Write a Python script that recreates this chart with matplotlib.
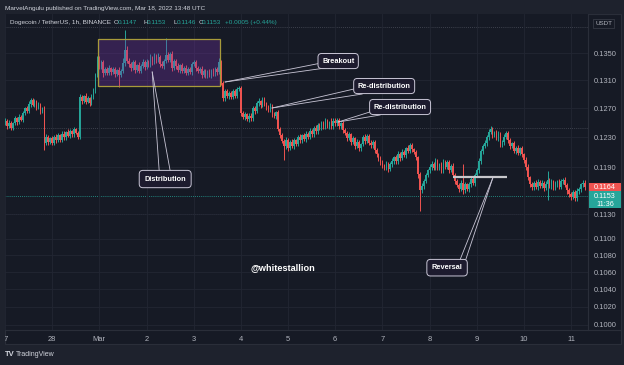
import numpy as np
import pandas as pd
import matplotlib
matplotlib.use('Agg')
import matplotlib.pyplot as plt
import matplotlib.dates as mdates
from matplotlib.patches import Rectangle
from matplotlib.lines import Line2D
from matplotlib.ticker import FixedLocator, NullLocator
from matplotlib.transforms import Bbox, TransformedBbox

# DOGE/USDT 1h closes in 1e-4 USDT, Feb 27 00:00 -> Mar 11 07:00 (one row per day)
closes = [
    1253, 1245, 1250, 1243, 1249, 1256, 1251, 1258, 1254, 1263, 1270, 1266, 1276, 1282, 1275, 1280, 1271, 1275, 1266, 1270, 1222, 1230, 1224, 1229,
    1223, 1231, 1226, 1233, 1227, 1235, 1230, 1237, 1232, 1238, 1234, 1241, 1236, 1231, 1286, 1280, 1287, 1279, 1284, 1278, 1286, 1296, 1318, 1340,
    1330, 1336, 1320, 1327, 1321, 1328, 1322, 1327, 1319, 1325, 1318, 1324, 1335, 1355, 1338, 1333, 1328, 1336, 1325, 1332, 1324, 1331, 1336, 1329,
    1337, 1333, 1343, 1336, 1346, 1339, 1344, 1334, 1331, 1338, 1347, 1340, 1349, 1328, 1338, 1331, 1325, 1332, 1323, 1328, 1321, 1327, 1322, 1334,
    1336, 1328, 1323, 1327, 1318, 1324, 1317, 1323, 1318, 1324, 1319, 1326, 1322, 1337, 1306, 1284, 1294, 1287, 1292, 1286, 1294, 1288, 1297, 1299,
    1264, 1258, 1262, 1255, 1260, 1256, 1271, 1266, 1277, 1280, 1275, 1283, 1277, 1272, 1268, 1274, 1262, 1259, 1265, 1242, 1233, 1225, 1218, 1226,
    1216, 1224, 1218, 1226, 1221, 1230, 1226, 1233, 1228, 1235, 1231, 1239, 1234, 1243, 1238, 1247, 1243, 1250, 1245, 1252, 1246, 1251, 1245, 1253,
    1249, 1254, 1245, 1249, 1240, 1236, 1229, 1234, 1224, 1229, 1218, 1224, 1215, 1221, 1230, 1225, 1232, 1223, 1219, 1224, 1213, 1207, 1202, 1196,
    1193, 1189, 1195, 1188, 1194, 1198, 1203, 1198, 1208, 1202, 1210, 1206, 1215, 1212, 1219, 1214, 1210, 1203, 1181, 1160, 1166, 1172, 1180, 1186,
    1190, 1195, 1189, 1198, 1190, 1194, 1186, 1196, 1191, 1197, 1187, 1192, 1180, 1172, 1167, 1162, 1170, 1160, 1168, 1162, 1168, 1175, 1170, 1180,
    1186, 1198, 1211, 1218, 1222, 1230, 1237, 1241, 1233, 1236, 1229, 1235, 1220, 1224, 1231, 1236, 1226, 1218, 1222, 1212, 1216, 1209, 1215, 1207,
    1200, 1190, 1177, 1168, 1164, 1170, 1165, 1171, 1166, 1170, 1163, 1168, 1174, 1166, 1172, 1164, 1169, 1172, 1165, 1172, 1174, 1167, 1160, 1155,
    1152, 1158, 1150, 1159, 1162, 1168, 1170, 1164,
]
first_open = 1250

# wick lengths above max(open, close) / below min(open, close), 1e-4 USDT
upper_wick = [
    3, 2, 4, 3, 2, 3, 2, 4, 3, 3, 2, 4, 5, 3, 2, 3, 2, 4, 3, 2, 3, 4, 3, 2,
    3, 2, 4, 3, 2, 3, 3, 2, 4, 3, 2, 3, 2, 3, 4, 3, 2, 5, 3, 2, 4, 3, 3, 5,
    6, 3, 4, 2, 3, 4, 2, 3, 3, 2, 4, 3, 8, 30, 5, 4, 3, 4, 3, 2, 4, 3, 5, 3,
    4, 3, 5, 3, 4, 3, 6, 3, 4, 3, 25, 5, 3, 4, 3, 3, 4, 2, 3, 3, 4, 2, 3, 3,
    4, 3, 3, 2, 4, 3, 3, 2, 3, 2, 4, 3, 3, 5, 3, 3, 4, 3, 2, 3, 4, 3, 4, 3,
    3, 2, 3, 2, 3, 4, 3, 2, 3, 4, 2, 3, 3, 2, 3, 4, 2, 3, 2, 3, 2, 3, 3, 4,
    3, 2, 4, 3, 2, 3, 4, 2, 3, 3, 2, 4, 3, 2, 4, 3, 2, 3, 2, 4, 3, 2, 5, 3,
    3, 2, 3, 2, 4, 3, 2, 3, 2, 3, 2, 4, 3, 2, 3, 4, 3, 2, 3, 3, 2, 3, 2, 3,
    3, 2, 3, 2, 3, 4, 2, 3, 3, 2, 4, 3, 2, 4, 3, 3, 2, 3, 2, 3, 4, 3, 3, 2,
    4, 3, 2, 4, 3, 2, 3, 5, 3, 2, 3, 3, 4, 2, 3, 2, 3, 25, 3, 2, 3, 4, 3, 2,
    3, 4, 3, 3, 4, 3, 4, 5, 3, 2, 4, 3, 2, 3, 4, 2, 3, 3, 2, 3, 2, 3, 2, 3,
    2, 3, 4, 2, 3, 2, 3, 4, 2, 3, 2, 4, 11, 2, 3, 2, 3, 2, 3, 3, 2, 3, 2, 3,
    3, 2, 3, 4, 3, 2, 3, 3,
]
lower_wick = [
    3, 4, 2, 3, 3, 2, 4, 3, 2, 3, 2, 3, 3, 4, 2, 3, 3, 2, 4, 3, 9, 3, 4, 3,
    3, 4, 3, 2, 3, 3, 4, 3, 2, 3, 4, 3, 2, 3, 3, 4, 3, 3, 2, 4, 3, 3, 4, 3,
    4, 3, 5, 3, 4, 3, 4, 3, 4, 3, 18, 3, 3, 4, 3, 4, 5, 3, 4, 3, 4, 3, 3, 4,
    3, 4, 3, 4, 3, 4, 3, 4, 3, 4, 3, 3, 4, 5, 3, 4, 3, 4, 3, 3, 4, 3, 3, 4,
    3, 4, 3, 3, 4, 3, 4, 3, 3, 4, 3, 3, 4, 3, 3, 4, 3, 3, 4, 3, 3, 4, 3, 3,
    4, 3, 4, 3, 4, 3, 3, 4, 3, 3, 4, 3, 3, 4, 3, 3, 4, 3, 4, 3, 4, 3, 18, 4,
    4, 3, 3, 4, 3, 3, 4, 3, 3, 4, 3, 3, 4, 3, 3, 4, 3, 3, 4, 3, 3, 4, 3, 3,
    3, 4, 3, 3, 4, 3, 4, 3, 4, 3, 4, 3, 4, 3, 3, 4, 3, 3, 4, 3, 4, 3, 4, 3,
    4, 3, 3, 4, 3, 3, 4, 3, 3, 4, 3, 3, 4, 3, 3, 4, 3, 4, 5, 26, 3, 4, 3, 3,
    3, 4, 3, 3, 4, 3, 3, 4, 3, 3, 4, 3, 3, 4, 3, 4, 3, 4, 3, 3, 4, 3, 3, 4,
    3, 3, 4, 3, 3, 4, 3, 3, 4, 3, 3, 4, 3, 3, 4, 3, 3, 4, 3, 3, 4, 3, 3, 4,
    4, 3, 4, 3, 4, 3, 3, 4, 3, 3, 4, 3, 20, 3, 4, 3, 3, 4, 3, 3, 4, 3, 4, 3,
    4, 3, 4, 3, 3, 4, 3, 3,
]

day_labels = ['27', '28', 'Mar', '2', '3', '4', '5', '6', '7', '8', '9', '10', '11']
price_ticks = [0.1000, 0.1020, 0.1040, 0.1060, 0.1080, 0.1100, 0.1130,
               0.1190, 0.1230, 0.1270, 0.1310, 0.1350]
dotted_levels = [0.1389, 0.1243, 0.1130]
last_price = 0.1153
last_bar_price = 0.1164

W, H = 624, 365
BG = '#1e222d'
PANE = '#161a25'
BORDER = '#2a2e39'
UP, DOWN = '#26a69a', '#ef5350'
TXT = '#b2b5be'
FONT = 'Liberation Sans'
HDR_SIZE = 4.6


def fx(px):
    return px / W


def fy(py):
    return 1 - py / H


c = np.array(closes) / 1e4
o = np.r_[first_open, closes[:-1]] / 1e4
hi = np.maximum(o, c) + np.array(upper_wick) / 1e4
lo = np.minimum(o, c) - np.array(lower_wick) / 1e4
colors = np.where(c >= o, UP, DOWN)

times = pd.date_range('2022-02-27', periods=len(closes), freq='h')
x = mdates.date2num(times)
t0 = x[0]
hour = 1 / 24

fig = plt.figure(figsize=(W / 100, H / 100), dpi=100, facecolor=BG)
fig.patches.append(Rectangle((fx(5), fy(344)), fx(616), (344 - 14) / H,
                             transform=fig.transFigure, facecolor=PANE,
                             edgecolor=BORDER, lw=0.8, zorder=-5))
ax = fig.add_axes([fx(5), fy(330), fx(583), (330 - 14) / H], facecolor=PANE)
ax.set_zorder(1)

# candles
ax.vlines(x, lo, hi, colors=colors, lw=0.7, zorder=3)
body = np.maximum(np.abs(c - o), 0.00004)
ax.bar(x, body, bottom=np.minimum(o, c), width=0.8 * hour, color=colors,
       linewidth=0, zorder=3)

ax.set_yscale('log')
ax.set_ylim(0.09944, 0.14094)
ax.set_xlim(t0 + 0.1 * hour, t0 + 296.6 * hour)

ax.yaxis.set_major_locator(FixedLocator(price_ticks))
ax.yaxis.set_minor_locator(NullLocator())
ax.set_yticklabels([f'{p:.4f}' for p in price_ticks])
ax.yaxis.tick_right()
days = mdates.date2num(pd.date_range('2022-02-27', periods=len(day_labels), freq='D'))
ax.set_xticks(days)
ax.set_xticklabels(day_labels)
ax.tick_params(length=0, colors=TXT, labelsize=5.4, pad=4)
for lbl in ax.get_xticklabels() + ax.get_yticklabels():
    lbl.set_fontfamily(FONT)
ax.grid(True, color='#222633', lw=0.6, zorder=0)
for s in ['top', 'left']:
    ax.spines[s].set_visible(False)
for s in ['right', 'bottom']:
    ax.spines[s].set_color(BORDER)
    ax.spines[s].set_linewidth(0.8)

clip = TransformedBbox(Bbox.from_extents(fx(5), 0, 1, 1), fig.transFigure)
for lbl in ax.get_xticklabels():
    lbl.set_clip_box(clip)
    lbl.set_clip_on(True)

for lvl in dotted_levels:
    ax.axhline(lvl, color='#4a4e5a', lw=0.6, ls=(0, (1, 1.5)), zorder=1)
ax.axhline(last_price, color=UP, lw=0.6, ls=(0, (1, 1.5)), zorder=1)

# distribution range box
ax.add_patch(Rectangle((t0 + 47.4 * hour, 0.1302), 62.1 * hour, 0.1371 - 0.1302,
                       facecolor=(0.47, 0.2, 0.68, 0.32), edgecolor='#a89b3a',
                       lw=0.9, zorder=4))

# reversal level
ax.plot([t0 + 228 * hour, t0 + 255.5 * hour], [0.1177, 0.1177],
        color='#c8c8cc', lw=1.6, zorder=5, solid_capstyle='butt')

fig.canvas.draw()


def callout(text, ch, cp, ah, ap, bases, pad=0.55):
    cx, cy = ax.transData.transform((t0 + ch * hour, cp))
    axp, ayp = ax.transData.transform((t0 + ah * hour, ap))
    for dx, dy in bases:
        fig.add_artist(Line2D([cx + dx, axp], [cy - dy, ayp], transform=None,
                              color='#c9c6d6', lw=0.6, zorder=6))
    fig.text(cx / W, cy / H, text, ha='center', va='center', color='white',
             fontsize=5.3, fontweight='bold', family=FONT, zorder=8,
             bbox=dict(boxstyle=f'round,pad={pad},rounding_size=0.5',
                       fc='#1d1b2e', ec='#c9c6d6', lw=0.7))


callout('Breakout', 169.5, 0.13381, 112.0, 0.13075, [(-17, 2), (-13, 7)])
callout('Re-distribution', 192.9, 0.13017, 135.9, 0.12705, [(-26, 2), (-22, 8)])
callout('Re-distribution', 201.0, 0.12719, 169.5, 0.12510, [(-24, 3), (-20, 8)])
callout('Distribution', 81.5, 0.11747, 74.9, 0.13220, [(-6, -8), (5, -8)], pad=0.7)
callout('Reversal', 224.9, 0.10652, 248.3, 0.1177, [(13, -8), (18, -6)], pad=0.65)

ax.text(t0 + 141.5 * hour, 0.10652, '@whitestallion', ha='center', va='center',
        color='white', fontsize=6.6, fontweight='bold', family=FONT, zorder=8)


# price axis labels
def price_tag(price, lines, color, h_px):
    yd = ax.transData.transform((t0, price))[1]
    y_top = H - yd - 4.5
    fig.patches.append(Rectangle((fx(589), fy(y_top + h_px)), fx(32), h_px / H,
                                 transform=fig.transFigure, facecolor=color,
                                 edgecolor='none', zorder=5))
    for k, s in enumerate(lines):
        fig.text(fx(605), fy(y_top + 4.7 + 8 * k), s, ha='center', va='center',
                 color='white', fontsize=5.2, family=FONT, zorder=6)


price_tag(last_bar_price, ['0.1164'], DOWN, 9)
price_tag(last_price, ['0.1153', '11:36'], UP, 17)

fig.text(fx(603.5), fy(23.5), 'USDT', ha='center', va='center', color=TXT,
         fontsize=4.5, family=FONT,
         bbox=dict(boxstyle='square,pad=0.35', fc=PANE, ec='#363a45', lw=0.6))
fig.add_artist(Line2D([fx(588), fx(621)], [fy(330), fy(330)], color=BORDER, lw=0.8))

# header
fig.text(fx(5), fy(8.5), 'MarvelAngulu published on TradingView.com, Mar 18, 2022 13:48 UTC',
         color='#d1d4dc', fontsize=HDR_SIZE, family=FONT, va='center')
hdr_y = fy(22.5)
fig.text(fx(10), hdr_y, 'Dogecoin / TetherUS, 1h, BINANCE', color='#d1d4dc',
         fontsize=HDR_SIZE, family=FONT, va='center')
for px, lab, val in [(114, 'O', '0.1147'), (143.5, 'H', '0.1153'),
                     (173, 'L', '0.1146'), (198.5, 'C', '0.1153')]:
    fig.text(fx(px), hdr_y, lab, color='#d1d4dc', fontsize=HDR_SIZE, family=FONT, va='center')
    fig.text(fx(px + 3.5), hdr_y, val, color=UP, fontsize=HDR_SIZE, family=FONT, va='center')
fig.text(fx(225), hdr_y, '+0.0005 (+0.44%)', color=UP, fontsize=HDR_SIZE, family=FONT, va='center')

# footer
fig.text(fx(5), fy(354.5), 'TV', color='#d1d4dc', fontsize=5.5, fontweight='bold',
         family=FONT, va='center')
fig.text(fx(16), fy(354.5), 'TradingView', color='#d1d4dc', fontsize=5.0,
         family=FONT, va='center')

fig.savefig('out.png', dpi=100, facecolor=BG)
